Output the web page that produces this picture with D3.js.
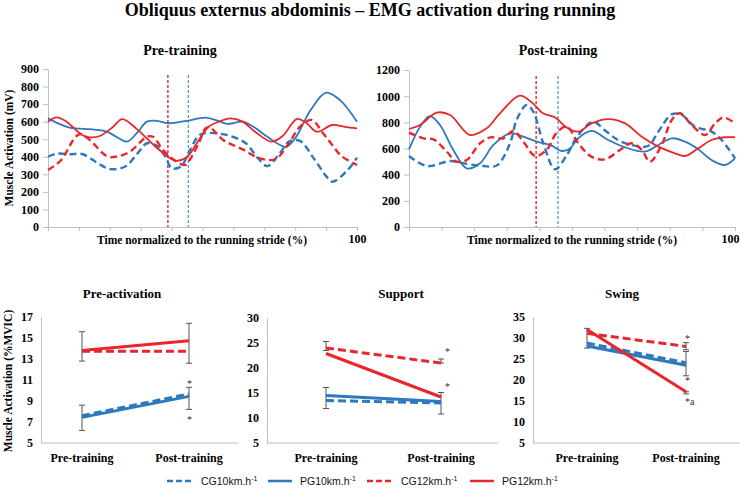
<!DOCTYPE html>
<html><head><meta charset="utf-8">
<script src="https://cdn.jsdelivr.net/npm/d3@7"></script>
<style>
body{margin:0;background:#fff;}
svg{display:block;}
</style></head>
<body>
<script>
// ---------- DATA ----------
const seriesKeys = ["CG10", "PG10", "CG12", "PG12"];
const legendLabels = ["CG10km.h", "PG10km.h", "CG12km.h", "PG12km.h"];
const strideTicks = [0,10,20,30,40,50,60,70,80,90,100];
const preYTicks = [0,100,200,300,400,500,600,700,800,900];
const postYTicks = [0,200,400,600,800,1000,1200];
const preBoundaries = [38.8, 45.4];   // [12 km/h, 10 km/h] stance end (%)
const postBoundaries = [39.0, 45.7];

// Pre-training EMG curves: [stride %, mV]
const preCG10 = [[0,400],[3,418],[7,414],[11,416],[16,365],[20,330],[25,345],[29,420],[32,477],[35,465],[38,400],[40,335],[43,345],[46,440],[49,524],[52,536],[56,530],[59,519],[64,477],[68,391],[71,347],[75,420],[78,486],[81.5,491],[86,391],[90,290],[92,258],[97,325],[100,395]];
const prePG10 = [[0,619],[4,585],[7,566],[15,555],[19,543],[22.5,510],[25.6,486],[29,540],[32,600],[35,605],[39,591],[45,605],[51,623],[55,605],[58,587],[63,600],[67,565],[71,514],[77,457],[80,505],[85,666],[90,765],[94.5,723],[100,600]];
const preCG12 = [[0,325],[4.3,382],[8.2,496],[10.3,530],[13.5,496],[19,404],[22,400],[26.5,429],[32,514],[34,514],[37,444],[40.5,386],[44.4,353],[46,386],[49,486],[51,562],[52.5,565],[56.7,496],[63,442],[68.6,391],[73.5,386],[78,477],[81.5,571],[85.3,610],[89,534],[92,467],[95,404],[100,353]];
const prePG12 = [[0,600],[2.8,625],[6,600],[11,524],[13.5,511],[17,520],[21,570],[24,615],[28.5,562],[35,454],[40,386],[41.5,377],[45,400],[49,500],[52,571],[56,605],[59,619],[63,600],[67,543],[72.4,486],[76,519],[80.5,615],[83.7,591],[87,543],[92,581],[96,570],[100,562]];

// Post-training EMG curves: [stride %, mV]
const postCG10 = [[0,543],[5.4,466],[12.6,504],[17.7,482],[22.8,466],[26.9,470],[31,640],[33,818],[36.1,932],[38.1,882],[41.2,640],[44.8,441],[48.4,550],[51.9,703],[56.5,805],[60,741],[64.1,665],[68.2,627],[73.3,619],[76.5,729],[80.6,861],[83.7,856],[87.7,767],[92.8,729],[95.9,665],[100,525]];
const postPG10 = [[0,594],[3.4,767],[6.4,848],[9.5,780],[13.6,589],[17.7,448],[21.8,487],[25.9,627],[31,716],[35.1,690],[39.2,652],[43.3,627],[47,581],[49.4,600],[51.9,678],[56,734],[61.1,665],[66.3,609],[72.4,576],[76.5,627],[80.6,678],[84.7,652],[88.7,594],[92.8,512],[96.9,474],[100,525]];
const postCG12 = [[0,721],[4.4,678],[7.5,670],[11.6,576],[14.6,499],[17.7,512],[21.8,640],[24.9,685],[29,678],[32,734],[35.1,652],[38.7,543],[42.2,589],[45.3,721],[48.4,767],[51.9,640],[56,537],[60.1,517],[64.7,589],[68.2,640],[71.4,589],[73.9,499],[77.5,627],[80.6,818],[83.1,869],[86.7,780],[90.8,703],[93.9,792],[96.4,838],[100,792]];
const postPG12 = [[0,749],[3.4,780],[8.5,874],[12.6,856],[18.7,703],[23.8,754],[27.9,869],[34,1004],[38,945],[41.1,869],[44.8,838],[48.4,760],[51.9,729],[56,792],[61.1,825],[66.3,792],[71.4,690],[76.5,614],[81.6,563],[84.7,543],[88.7,601],[92.8,665],[96.9,686],[100,686]];

// Phase means (%MVIC): [Pre-training, Post-training]
const phases = ["Pre-training", "Post-training"];
const preActCG10 = [7.6, 9.67], preActPG10 = [7.44, 9.44], preActCG12 = [13.75, 13.75], preActPG12 = [13.8, 14.74];
const supportCG10 = [13.5, 13.0], supportPG10 = [14.5, 13.3], supportCG12 = [24.0, 21.0], supportPG12 = [22.9, 14.2];
const swingCG10 = [28.8, 24.1], swingPG10 = [28.1, 23.5], swingCG12 = [31.1, 28.0], swingPG12 = [32.0, 17.2];
const preActTicks = [5,7,9,11,13,15,17];
const supportTicks = [5,10,15,20,25,30];
const swingTicks = [5,10,15,20,25,30,35];
// error bars: [phase, low, high]
const preActErr = [["Pre-training",12.8,15.6],["Pre-training",6.2,8.6],["Post-training",12.6,16.4],["Post-training",8.2,10.3]];
const supportErr = [["Pre-training",23.5,25.3],["Pre-training",11.9,16.1],["Post-training",21.0,21.8],["Post-training",10.8,15.1]];
const swingErr = [["Pre-training",27.6,32.3],["Post-training",27.2,28.9],["Post-training",21.0,26.8],["Post-training",16.7,17.2]];
// significance marks: [phase, value, text]
const preActMarks = [["Post-training",10.7,"*"],["Post-training",7.3,"*"]];
const supportMarks = [["Post-training",23.4,"*"],["Post-training",16.4,"*"]];
const swingMarks = [["Post-training",30.0,"*"],["Post-training",20.0,"*"],["Post-training",14.9,"*a"]];

// ---------- STYLE ----------
const BLUE = "#2e78bd", RED = "#e8262b", AXIS = "#bfbfbf";
const SERIF = "'Liberation Serif','Times New Roman',serif";
const colorOf = k => k.endsWith("10") ? BLUE : RED;
const dashedOf = k => k.startsWith("CG");

const W = 740, H = 493;
const svg = d3.select("body").append("svg").attr("width", W).attr("height", H)
  .style("font-family", SERIF);

svg.append("text").attr("x", 370).attr("y", 16).attr("text-anchor", "middle")
  .attr("font-size", 18).attr("font-weight", "bold")
  .text("Obliquus externus abdominis – EMG activation during running");

// ---------- TOP LINE CHARTS ----------
function strideChart(cfg) {
  const g = svg.append("g");
  const x = d3.scaleLinear().domain([0, 100]).range([cfg.x0, cfg.x1]);
  const y = d3.scaleLinear().domain([0, cfg.yTicks[cfg.yTicks.length - 1]]).range([cfg.yBot, cfg.yTop]);

  const ya = g.append("g").attr("transform", `translate(${cfg.x0},0)`)
    .call(d3.axisLeft(y).tickValues(cfg.yTicks).tickFormat(d3.format("d")).tickSize(5).tickSizeOuter(0).tickPadding(4));
  const xa = g.append("g").attr("transform", `translate(0,${cfg.yBot})`)
    .call(d3.axisBottom(x).tickValues(strideTicks).tickSize(4).tickSizeOuter(0).tickPadding(3)
      .tickFormat(d => d === 100 ? "100" : ""));
  [ya, xa].forEach(a => {
    a.selectAll("path, line").attr("stroke", AXIS);
    a.selectAll("text").attr("font-family", SERIF).attr("font-weight", "bold")
      .attr("font-size", 12).attr("fill", "#000");
  });
  xa.selectAll("text").attr("dx", cfg.lastDx);

  // boundary lines
  cfg.bounds.forEach((b, i) => {
    g.append("line").attr("x1", x(b)).attr("x2", x(b)).attr("y1", cfg.yTop + 6).attr("y2", cfg.yBot)
      .attr("stroke", i === 0 ? RED : BLUE).attr("stroke-width", i === 0 ? 1.4 : 1)
      .attr("stroke-dasharray", "3,2");
  });

  const line = d3.line().x(d => x(d[0])).y(d => y(d[1])).curve(d3.curveCatmullRom.alpha(0.5));
  seriesKeys.forEach((k, i) => {
    g.append("path").datum(cfg.series[i]).attr("d", line).attr("fill", "none")
      .attr("stroke", colorOf(k)).attr("stroke-width", dashedOf(k) ? 2.4 : 1.8)
      .attr("stroke-dasharray", dashedOf(k) ? "7,4" : null);
  });

  g.append("text").attr("x", cfg.titleX).attr("y", 55).attr("text-anchor", "middle")
    .attr("font-size", 14).attr("font-weight", "bold").text(cfg.title);
  g.append("text").attr("x", cfg.xLabelX).attr("y", 244).attr("text-anchor", "middle")
    .attr("font-size", 11.5).attr("font-weight", "bold").text("Time normalized to the running stride (%)");
}

strideChart({x0: 48, x1: 357, yTop: 69, yBot: 227, yTicks: preYTicks, bounds: preBoundaries, lastDx: 0,
  series: [preCG10, prePG10, preCG12, prePG12], title: "Pre-training", titleX: 180, xLabelX: 202});
strideChart({x0: 409, x1: 735, yTop: 70, yBot: 227, yTicks: postYTicks, bounds: postBoundaries, lastDx: -5,
  series: [postCG10, postPG10, postCG12, postPG12], title: "Post-training", titleX: 558, xLabelX: 572});

svg.append("text").attr("transform", "translate(13,148) rotate(-90)").attr("text-anchor", "middle")
  .attr("font-size", 11.5).attr("font-weight", "bold").text("Muscle Activation (mV)");

// ---------- BOTTOM PHASE CHARTS ----------
function phaseChart(cfg) {
  const g = svg.append("g");
  const x = d3.scalePoint().domain(phases).range([cfg.pre, cfg.post]);
  const y = d3.scaleLinear().domain([cfg.ticks[0], cfg.ticks[cfg.ticks.length - 1]]).range([443, cfg.yTop]);

  const ya = g.append("g").attr("transform", `translate(${cfg.ax},0)`)
    .call(d3.axisLeft(y).tickValues(cfg.ticks).tickSize(0).tickPadding(8));
  ya.select(".domain").attr("stroke", AXIS);
  ya.selectAll("text").attr("font-family", SERIF).attr("font-weight", "bold").attr("font-size", 12).attr("fill", "#000");
  g.append("line").attr("x1", cfg.ax).attr("x2", cfg.axEnd).attr("y1", 443).attr("y2", 443).attr("stroke", AXIS);
  phases.forEach(p => g.append("text").attr("x", x(p)).attr("y", 462).attr("text-anchor", "middle")
    .attr("font-size", 12).attr("font-weight", "bold").text(p));

  // error bars
  cfg.err.forEach(e => {
    const cx = x(e[0]);
    g.append("line").attr("x1", cx).attr("x2", cx).attr("y1", y(e[1])).attr("y2", y(e[2])).attr("stroke", "#555").attr("stroke-width", 1);
    [e[1], e[2]].forEach(v => g.append("line").attr("x1", cx - 3).attr("x2", cx + 3).attr("y1", y(v)).attr("y2", y(v))
      .attr("stroke", "#555").attr("stroke-width", 1));
  });

  const line = d3.line().x((d, i) => x(phases[i])).y(d => y(d));
  seriesKeys.forEach((k, i) => {
    g.append("path").datum(cfg.series[i]).attr("d", line).attr("fill", "none")
      .attr("stroke", colorOf(k)).attr("stroke-width", 3)
      .attr("stroke-dasharray", dashedOf(k) ? "8,4" : null);
  });

  cfg.marks.forEach(m => g.append("text").attr("x", x(m[0]) + cfg.markDx).attr("y", y(m[1]) + 4)
    .attr("font-size", 10).attr("fill", "#333").text(m[2]));

  g.append("text").attr("x", cfg.titleX).attr("y", 298).attr("text-anchor", "middle")
    .attr("font-size", 13).attr("font-weight", "bold").text(cfg.title);
}

phaseChart({ax: 41, axEnd: 238, pre: 82, post: 189, yTop: 317, ticks: preActTicks,
  series: [preActCG10, preActPG10, preActCG12, preActPG12], err: preActErr, marks: preActMarks, markDx: -2,
  title: "Pre-activation", titleX: 122});
phaseChart({ax: 267, axEnd: 498, pre: 326, post: 441, yTop: 318, ticks: supportTicks,
  series: [supportCG10, supportPG10, supportCG12, supportPG12], err: supportErr, marks: supportMarks, markDx: 4,
  title: "Support", titleX: 401});
phaseChart({ax: 533, axEnd: 740, pre: 587, post: 686, yTop: 317, ticks: swingTicks,
  series: [swingCG10, swingPG10, swingCG12, swingPG12], err: swingErr, marks: swingMarks, markDx: -1,
  title: "Swing", titleX: 622});

svg.append("text").attr("transform", "translate(12,381) rotate(-90)").attr("text-anchor", "middle")
  .attr("font-size", 11.5).attr("font-weight", "bold").text("Muscle Activation (%MVIC)");

// ---------- LEGEND ----------
const legX = [167, 268, 367, 470];
seriesKeys.forEach((k, i) => {
  const lg = svg.append("g").attr("transform", `translate(${legX[i]},481)`);
  lg.append("line").attr("x1", 0).attr("x2", 24).attr("y1", 0).attr("y2", 0)
    .attr("stroke", colorOf(k)).attr("stroke-width", 2.5)
    .attr("stroke-dasharray", dashedOf(k) ? "6,3" : null);
  const t = lg.append("text").attr("x", dashedOf(k) ? 34 : 32).attr("y", 4)
    .attr("font-family", "'Liberation Sans',Arial,sans-serif").attr("font-size", 10.5).attr("fill", "#111");
  t.append("tspan").text(legendLabels[i]);
  t.append("tspan").attr("dy", -4).attr("font-size", 7).text("-1");
});
</script>
</body></html>
